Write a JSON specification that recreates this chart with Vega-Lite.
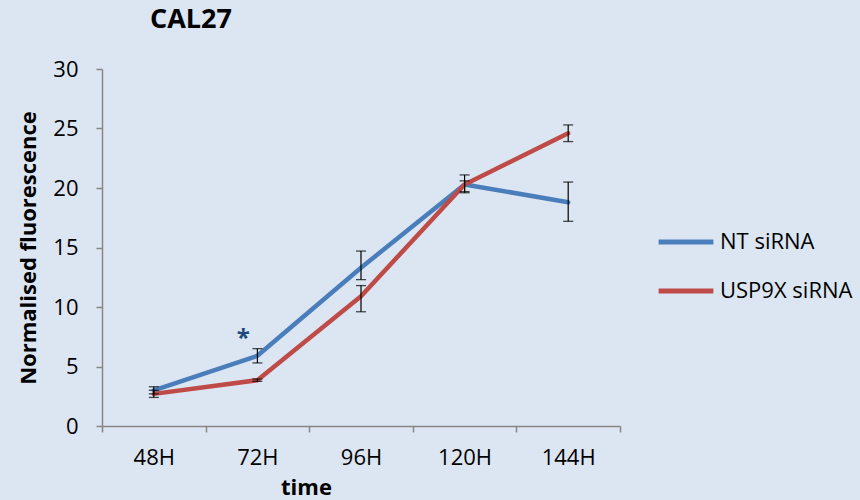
{
  "$schema": "https://vega.github.io/schema/vega-lite/v6.json",
  "autosize": {"type": "none"},
  "width": 518,
  "height": 357,
  "padding": {"left": 102, "top": 69, "right": 240, "bottom": 74},
  "background": "#dce6f2",
  "title": {
    "text": "CAL27",
    "anchor": "start",
    "frame": "group",
    "dx": 48,
    "offset": 24,
    "fontSize": 27,
    "font": "Open Sans",
    "fontWeight": "bold",
    "color": "#000000"
  },
  "config": {
    "view": {"stroke": null},
    "font": "Open Sans"
  },
  "data": {
    "values": [
      {"series": "NT siRNA", "time": "48H", "mean": 3.0, "lo": 2.7, "hi": 3.3},
      {"series": "NT siRNA", "time": "72H", "mean": 5.9, "lo": 5.3, "hi": 6.5},
      {"series": "NT siRNA", "time": "96H", "mean": 13.3, "lo": 12.3, "hi": 14.7},
      {"series": "NT siRNA", "time": "120H", "mean": 20.3, "lo": 19.6, "hi": 21.1},
      {"series": "NT siRNA", "time": "144H", "mean": 18.8, "lo": 17.2, "hi": 20.5},
      {"series": "USP9X siRNA", "time": "48H", "mean": 2.7, "lo": 2.4, "hi": 3.0},
      {"series": "USP9X siRNA", "time": "72H", "mean": 3.85, "lo": 3.75, "hi": 3.95},
      {"series": "USP9X siRNA", "time": "96H", "mean": 10.9, "lo": 9.6, "hi": 11.8},
      {"series": "USP9X siRNA", "time": "120H", "mean": 20.3, "lo": 19.7, "hi": 20.6},
      {"series": "USP9X siRNA", "time": "144H", "mean": 24.6, "lo": 23.9, "hi": 25.3}
    ]
  },
  "encoding": {
    "x": {
      "field": "time",
      "type": "ordinal",
      "sort": ["48H", "72H", "96H", "120H", "144H"],
      "bandPosition": 0.5,
      "scale": {"type": "band", "paddingInner": 0, "paddingOuter": 0},
      "axis": {
        "title": "time",
        "titleFontSize": 22,
        "titleFontWeight": "bold",
        "titleColor": "#000000",
        "titleX": 204,
        "titleY": 68,
        "titleAlign": "center",
        "titleBaseline": "alphabetic",
        "labelAngle": 0,
        "labelFontSize": 22,
        "labelColor": "#000000",
        "labelPadding": 15,
        "tickBand": "extent",
        "tickColor": "#868686",
        "domainColor": "#868686",
        "tickSize": 6,
        "tickWidth": 1.5,
        "domainWidth": 1.5
      }
    },
    "y": {
      "type": "quantitative",
      "scale": {"domain": [0, 30], "nice": false},
      "axis": {
        "title": "Normalised fluorescence",
        "titleFontSize": 22,
        "titleFontWeight": "bold",
        "titleColor": "#000000",
        "titlePadding": 12,
        "values": [0, 5, 10, 15, 20, 25, 30],
        "labelFontSize": 22,
        "labelColor": "#000000",
        "labelPadding": 18,
        "grid": false,
        "tickColor": "#868686",
        "domainColor": "#868686",
        "tickSize": 6,
        "tickWidth": 1.5,
        "domainWidth": 1.5
      }
    }
  },
  "layer": [
    {
      "mark": {"type": "line", "strokeWidth": 4.5, "strokeCap": "round", "strokeJoin": "round"},
      "encoding": {
        "y": {"field": "mean", "type": "quantitative"},
        "color": {
          "field": "series",
          "type": "nominal",
          "scale": {"domain": ["NT siRNA", "USP9X siRNA"], "range": ["#4a7ebb", "#be4b48"]},
          "legend": {
            "title": null,
            "orient": "none",
            "legendX": 554,
            "legendY": 143,
            "symbolType": "stroke",
            "symbolSize": 3000,
            "symbolStrokeWidth": 5,
            "labelFontSize": 22,
            "labelColor": "#000000",
            "labelOffset": 4,
            "rowPadding": 8
          }
        }
      }
    },
    {
      "mark": {"type": "rule", "color": "#000000", "strokeWidth": 1.2},
      "encoding": {
        "y": {"field": "lo", "type": "quantitative"},
        "y2": {"field": "hi"}
      }
    },
    {
      "mark": {"type": "tick", "color": "#000000", "size": 10, "thickness": 1.3},
      "encoding": {"y": {"field": "lo", "type": "quantitative"}}
    },
    {
      "mark": {"type": "tick", "color": "#000000", "size": 10, "thickness": 1.3},
      "encoding": {"y": {"field": "hi", "type": "quantitative"}}
    },
    {
      "data": {"values": [{"time": "72H", "v": 7.3, "label": "*"}]},
      "mark": {"type": "text", "dx": -14, "fontSize": 24, "fontWeight": "bold", "color": "#1f497d", "baseline": "middle"},
      "encoding": {
        "y": {"field": "v", "type": "quantitative"},
        "text": {"field": "label"}
      }
    }
  ]
}
